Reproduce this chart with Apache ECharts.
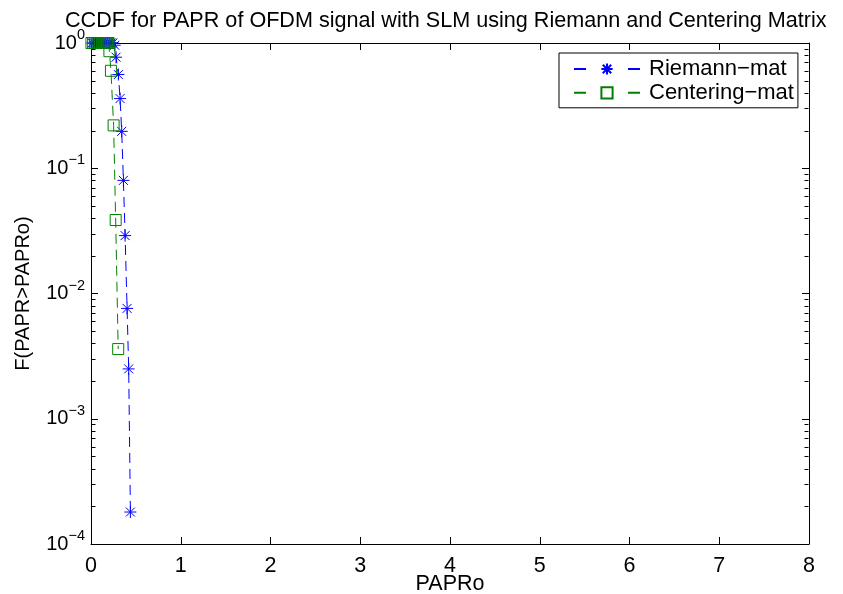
<!DOCTYPE html>
<html>
<head>
<meta charset="utf-8">
<script src="https://cdn.jsdelivr.net/npm/echarts@6/dist/echarts.min.js"></script>
<style>
  html, body { margin: 0; padding: 0; background: #fff; }
  #chart { width: 843px; height: 594px; }
</style>
</head>
<body>
<div id="chart"></div>
<script>
// PAPR threshold (x) and CCDF value (y) for each SLM variant
const paproRiemann = [0.010, 0.029, 0.049, 0.068, 0.088, 0.107, 0.127, 0.146, 0.166, 0.185, 0.205, 0.224, 0.244, 0.264, 0.279, 0.305, 0.324, 0.342, 0.361, 0.380, 0.402, 0.420, 0.439];
const ccdfRiemann  = [1, 1, 1, 1, 1, 1, 1, 1, 1, 1, 1, 1, 1, 0.96, 0.77, 0.56, 0.36, 0.197, 0.080, 0.029, 0.0076, 0.0025, 0.00018];

const paproCentering = [0.005, 0.024, 0.044, 0.063, 0.083, 0.102, 0.122, 0.141, 0.161, 0.180, 0.195, 0.205, 0.222, 0.252, 0.275, 0.303];
const ccdfCentering  = [1, 1, 1, 1, 1, 1, 1, 1, 1, 1, 1, 0.86, 0.60, 0.22, 0.0386, 0.0036];

const seriesNames = ['Riemann\u2212mat', 'Centering\u2212mat'];
const xTicks = [0, 1, 2, 3, 4, 5, 6, 7, 8];
const yDecades = [1e-4, 1e-3, 1e-2, 1e-1, 1];

// minor log ticks at 2..9 x 10^k
const yMinor = [];
for (let k = -4; k < 0; k++) {
  for (let m = 2; m <= 9; m++) yMinor.push(m * Math.pow(10, k));
}

const FONT = 'Liberation Sans, Arial, sans-serif';
const BLUE = '#0000ff';
const GREEN = '#008000';
const STAR = 'path://M0,-10L0,10M-10,0L10,0M-7.5,-7.5L7.5,7.5M-7.5,7.5L7.5,-7.5';
const X_MIN = xTicks[0];
const X_MAX = xTicks[xTicks.length - 1];

function pairs(xs, ys) { return xs.map((x, i) => [x, ys[i]]); }

function supLabel(v) {
  const e = Math.round(Math.log10(v));
  const s = e < 0 ? '\u2212' + (-e) : String(e);
  return '{b|10}{e|' + s + '}';
}

// short inward ticks on both vertical edges, placed through the log y scale
function renderMinorTick(params, api) {
  const v = api.value(1);
  const pl = api.coord([X_MIN, v]);
  const pr = api.coord([X_MAX, v]);
  const y = Math.round(pl[1]) + 0.5;
  const xl = Math.round(pl[0]) + 0.5;
  const xr = Math.round(pr[0]) - 0.5;
  return {
    type: 'group',
    children: [
      { type: 'line', shape: { x1: xl, y1: y, x2: xl + 4, y2: y }, style: { stroke: '#000', lineWidth: 1 } },
      { type: 'line', shape: { x1: xr - 4, y1: y, x2: xr, y2: y }, style: { stroke: '#000', lineWidth: 1 } }
    ]
  };
}

const baseX = {
  type: 'value', min: X_MIN, max: X_MAX, interval: 1,
  axisLine: { onZero: false, lineStyle: { color: '#000', width: 1 } },
  axisTick: { inside: true, length: 7, lineStyle: { color: '#000' } },
  splitLine: { show: false }
};
const baseY = {
  type: 'log', logBase: 10, min: yDecades[0], max: yDecades[yDecades.length - 1],
  axisLine: { show: true, onZero: false, lineStyle: { color: '#000', width: 1 } },
  axisTick: { inside: true, length: 7, lineStyle: { color: '#000' } },
  splitLine: { show: false }
};

const chart = echarts.init(document.getElementById('chart'), null, { renderer: 'canvas' });
chart.setOption({
  animation: false,
  backgroundColor: '#fff',
  title: {
    text: 'CCDF for PAPR of OFDM signal with SLM using Riemann and Centering Matrix',
    left: 60, top: 5,
    textStyle: { fontFamily: FONT, fontSize: 21.6, fontWeight: 'normal', color: '#000' }
  },
  legend: {
    orient: 'vertical', left: 559, top: 53,
    data: seriesNames,
    itemWidth: 66, itemHeight: 14, itemGap: 1.8,
    padding: [5, 4, 4, 14],
    borderColor: '#000', borderWidth: 1, backgroundColor: '#fff',
    lineStyle: { type: [12, 42] },
    textStyle: { fontFamily: FONT, fontSize: 22, color: '#000', padding: [0, 0, 0, 4] }
  },
  grid: { left: 91, right: 34, top: 43, bottom: 50, containLabel: false, outerBoundsMode: 'none' },
  xAxis: [
    Object.assign({}, baseX, {
      position: 'bottom',
      name: 'PAPRo', nameLocation: 'middle', nameGap: 29, nameMoveOverlap: false,
      nameTextStyle: { fontFamily: FONT, fontSize: 21.5, color: '#000' },
      axisLabel: { margin: 11, fontFamily: FONT, fontSize: 21.5, color: '#000' }
    }),
    Object.assign({}, baseX, { position: 'top', axisLabel: { show: false } })
  ],
  yAxis: [
    Object.assign({}, baseY, {
      position: 'left',
      name: 'F(PAPR>PAPRo)', nameLocation: 'middle', nameGap: 58, nameMoveOverlap: false,
      nameTextStyle: { fontFamily: FONT, fontSize: 20, color: '#000' },
      axisLabel: {
        margin: 6, formatter: supLabel,
        rich: {
          b: { fontFamily: FONT, fontSize: 20, lineHeight: 31, color: '#000' },
          e: { fontFamily: FONT, fontSize: 14.5, verticalAlign: 'top', color: '#000' }
        }
      }
    }),
    Object.assign({}, baseY, { position: 'right', axisLabel: { show: false } })
  ],
  series: [
    {
      name: 'minor-ticks', type: 'custom',
      xAxisIndex: 0, yAxisIndex: 0,
      data: yMinor.map(v => [X_MIN, v]),
      encode: { x: 0, y: 1 },
      renderItem: renderMinorTick,
      clip: false, silent: true, z: 1
    },
    {
      name: seriesNames[0], type: 'line',
      data: pairs(paproRiemann, ccdfRiemann),
      symbol: STAR, symbolSize: 12,
      lineStyle: { color: BLUE, width: 1, type: [10, 6] },
      itemStyle: { color: 'rgba(0,0,0,0)', borderColor: BLUE, borderWidth: 1 },
      emphasis: { disabled: true }
    },
    {
      name: seriesNames[1], type: 'line',
      data: pairs(paproCentering, ccdfCentering),
      symbol: 'rect', symbolSize: 11,
      lineStyle: { color: GREEN, width: 1, type: [10, 6] },
      itemStyle: { color: 'rgba(0,0,0,0)', borderColor: GREEN, borderWidth: 1 },
      emphasis: { disabled: true }
    }
  ]
});
</script>
</body>
</html>
